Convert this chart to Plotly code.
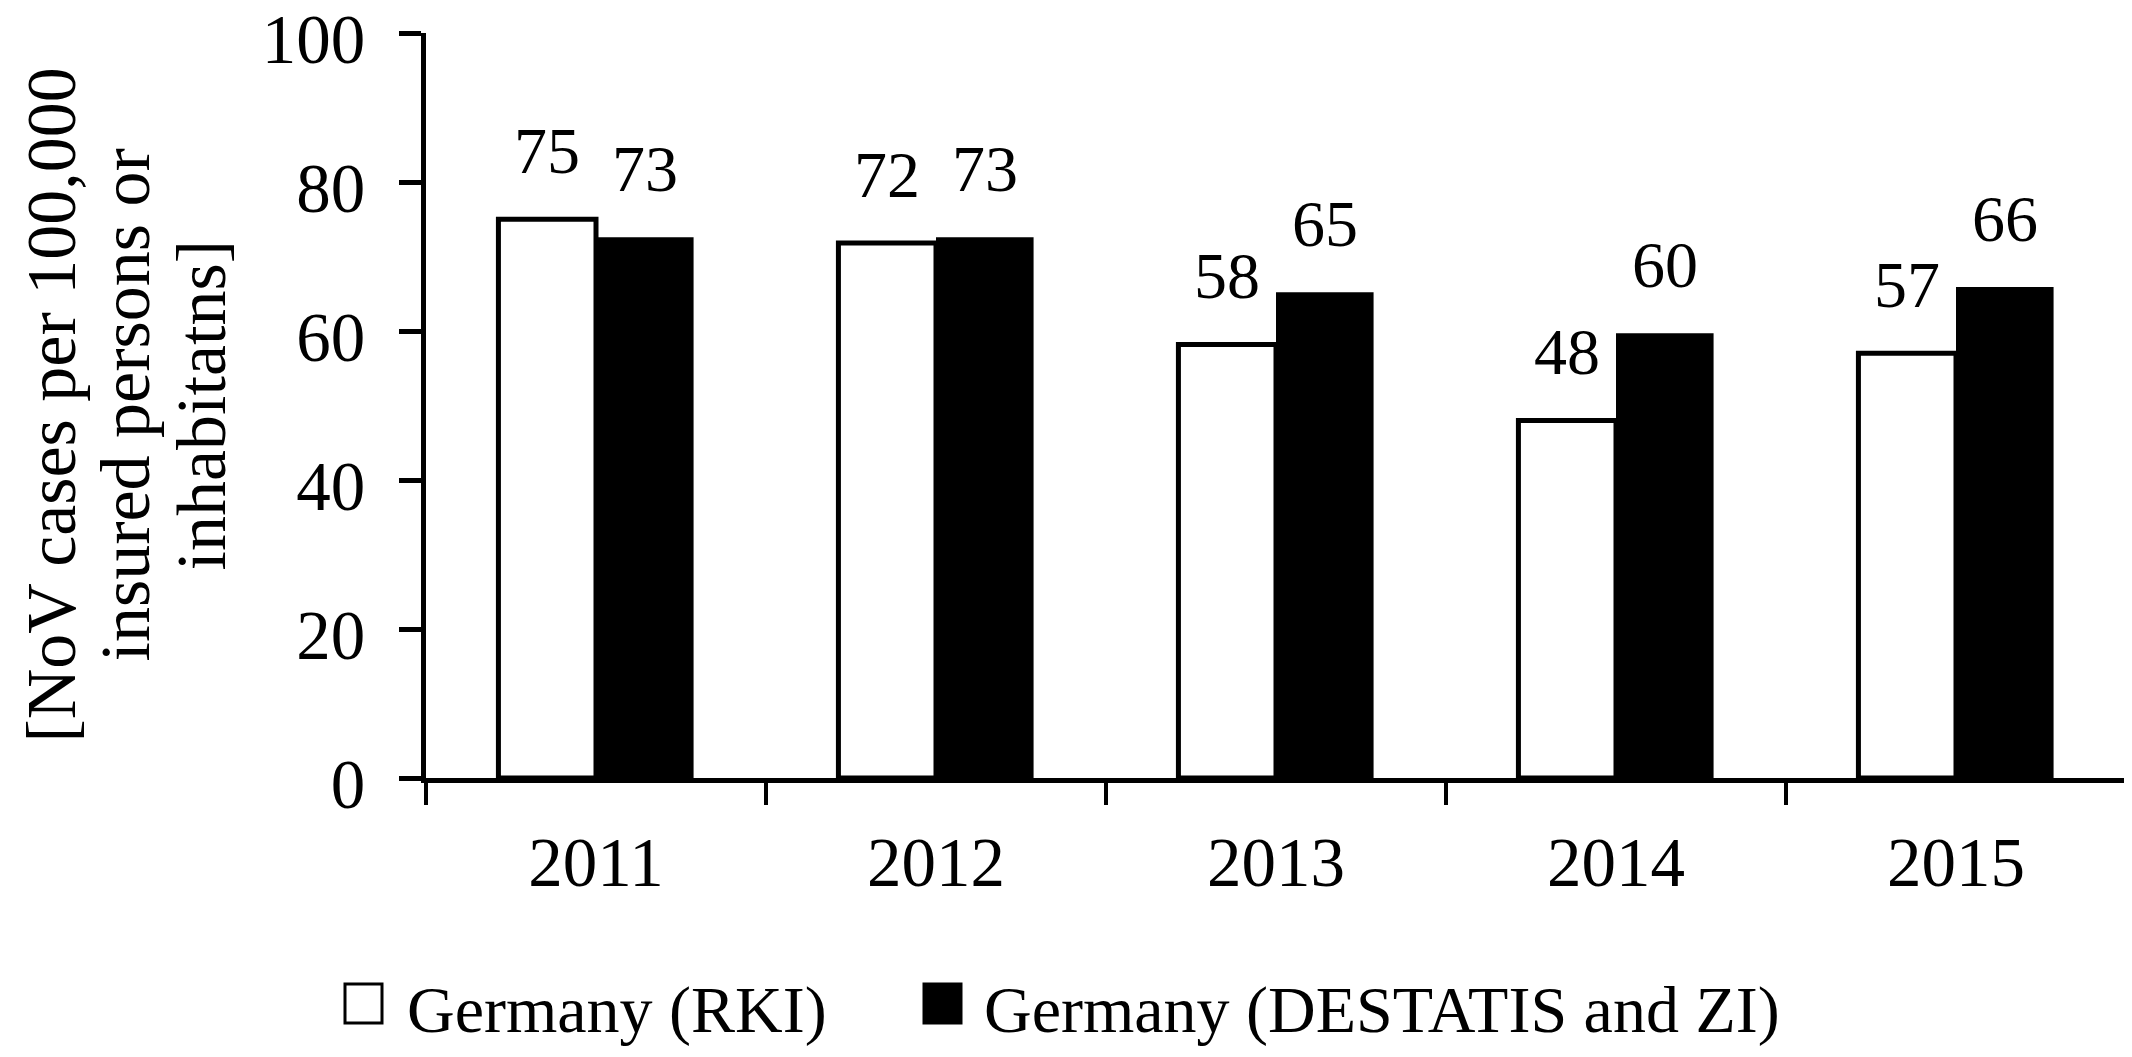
import plotly.graph_objects as go

# ---------------- data ----------------
years = ["2011", "2012", "2013", "2014", "2015"]
rki_values = [75.0, 71.8, 58.2, 48.0, 57.0]
destatis_values = [72.6, 72.6, 65.2, 59.7, 65.9]
series_names = ["Germany (RKI)", "Germany (DESTATIS and ZI)"]
y_tick_values = [0, 20, 40, 60, 80, 100]
y_title_lines = ["[NoV cases per 100,000", "insured persons or", "inhabitatns]"]

# ---------------- layout geometry ----------------
W, H = 2132, 1057
L, R, T, B = 418, 14, 25, 287
plot_w = W - L - R
plot_h = H - T - B
bargap = 0.426
bar_px = plot_w / len(years) * (1 - bargap) / 2

FONT = "Liberation Serif"
TICK_SIZE = 69
LABEL_SIZE = 66
TITLE_SIZE = 70


def px_x(X):
    return (X - L) / plot_w


def px_y(Y):
    return (H - B - Y) / plot_h


fig = go.Figure()
fig.add_trace(go.Bar(
    x=years, y=rki_values, name=series_names[0],
    marker=dict(color="white", line=dict(color="black", width=5)),
    showlegend=False,
))
fig.add_trace(go.Bar(
    x=years, y=destatis_values, name=series_names[1],
    marker=dict(color="black", line=dict(color="black", width=0)),
    showlegend=False,
))

annotations = []
# value labels above bars (x given as category index)
for vals, sign in ((rki_values, -1), (destatis_values, 1)):
    for i, v in enumerate(vals):
        annotations.append(dict(
            x=i, y=v, xref="x", yref="y", text=f"{round(v)}",
            showarrow=False, xanchor="center", yanchor="bottom",
            xshift=sign * bar_px / 2, yshift=30,
            font=dict(family=FONT, size=LABEL_SIZE, color="black"),
        ))

# y-axis title, three lines
title_cy = T + plot_h / 2
for line, cx in zip(y_title_lines, (43, 117, 193)):
    annotations.append(dict(
        x=px_x(cx), y=px_y(title_cy), xref="paper", yref="paper",
        text=line, textangle=-90, showarrow=False,
        xanchor="center", yanchor="middle",
        font=dict(family=FONT, size=TITLE_SIZE, color="black"),
    ))

# legend (custom, large keys)
legend_items = [
    (series_names[0], "white", 337, 397),
    (series_names[1], "black", 916, 974),
]
shapes = []
for name, fill, sx, tx in legend_items:
    shapes.append(dict(
        type="rect", xref="paper", yref="paper",
        x0=px_x(sx), x1=px_x(sx + 37), y0=px_y(1015), y1=px_y(976),
        fillcolor=fill, line=dict(color="black", width=3),
    ))
    annotations.append(dict(
        x=px_x(tx), y=px_y(1002), xref="paper", yref="paper",
        text=name, showarrow=False, xanchor="left", yanchor="middle",
        font=dict(family=FONT, size=LABEL_SIZE, color="black"),
    ))

fig.update_layout(
    width=W, height=H,
    margin=dict(l=L, r=R, t=T, b=B, pad=0, autoexpand=False),
    paper_bgcolor="white", plot_bgcolor="white",
    barmode="group", bargap=bargap, bargroupgap=0,
    annotations=annotations, shapes=shapes,
    showlegend=False,
    font=dict(family=FONT, color="black"),
)
fig.update_xaxes(
    type="category", tickson="boundaries", automargin=False,
    range=[-0.5, len(years) - 0.5], autorange=False,
    ticks="outside", ticklen=22, tickwidth=4, tickcolor="black",
    showline=True, linewidth=5, linecolor="black",
    showgrid=False, zeroline=False, tickangle=0,
    tickfont=dict(family=FONT, size=TICK_SIZE, color="black"),
    ticklabelstandoff=20,
)
fig.update_yaxes(
    range=[0, 100], autorange=False, tickvals=y_tick_values, automargin=False,
    ticks="outside", ticklen=22, tickwidth=5, tickcolor="black",
    showline=True, linewidth=5, linecolor="black",
    showgrid=False, zeroline=False,
    tickfont=dict(family=FONT, size=TICK_SIZE, color="black"),
    ticklabelstandoff=20, ticklabelshift=6, ticklabeloverflow="allow",
)

fig.write_html("out.html")
